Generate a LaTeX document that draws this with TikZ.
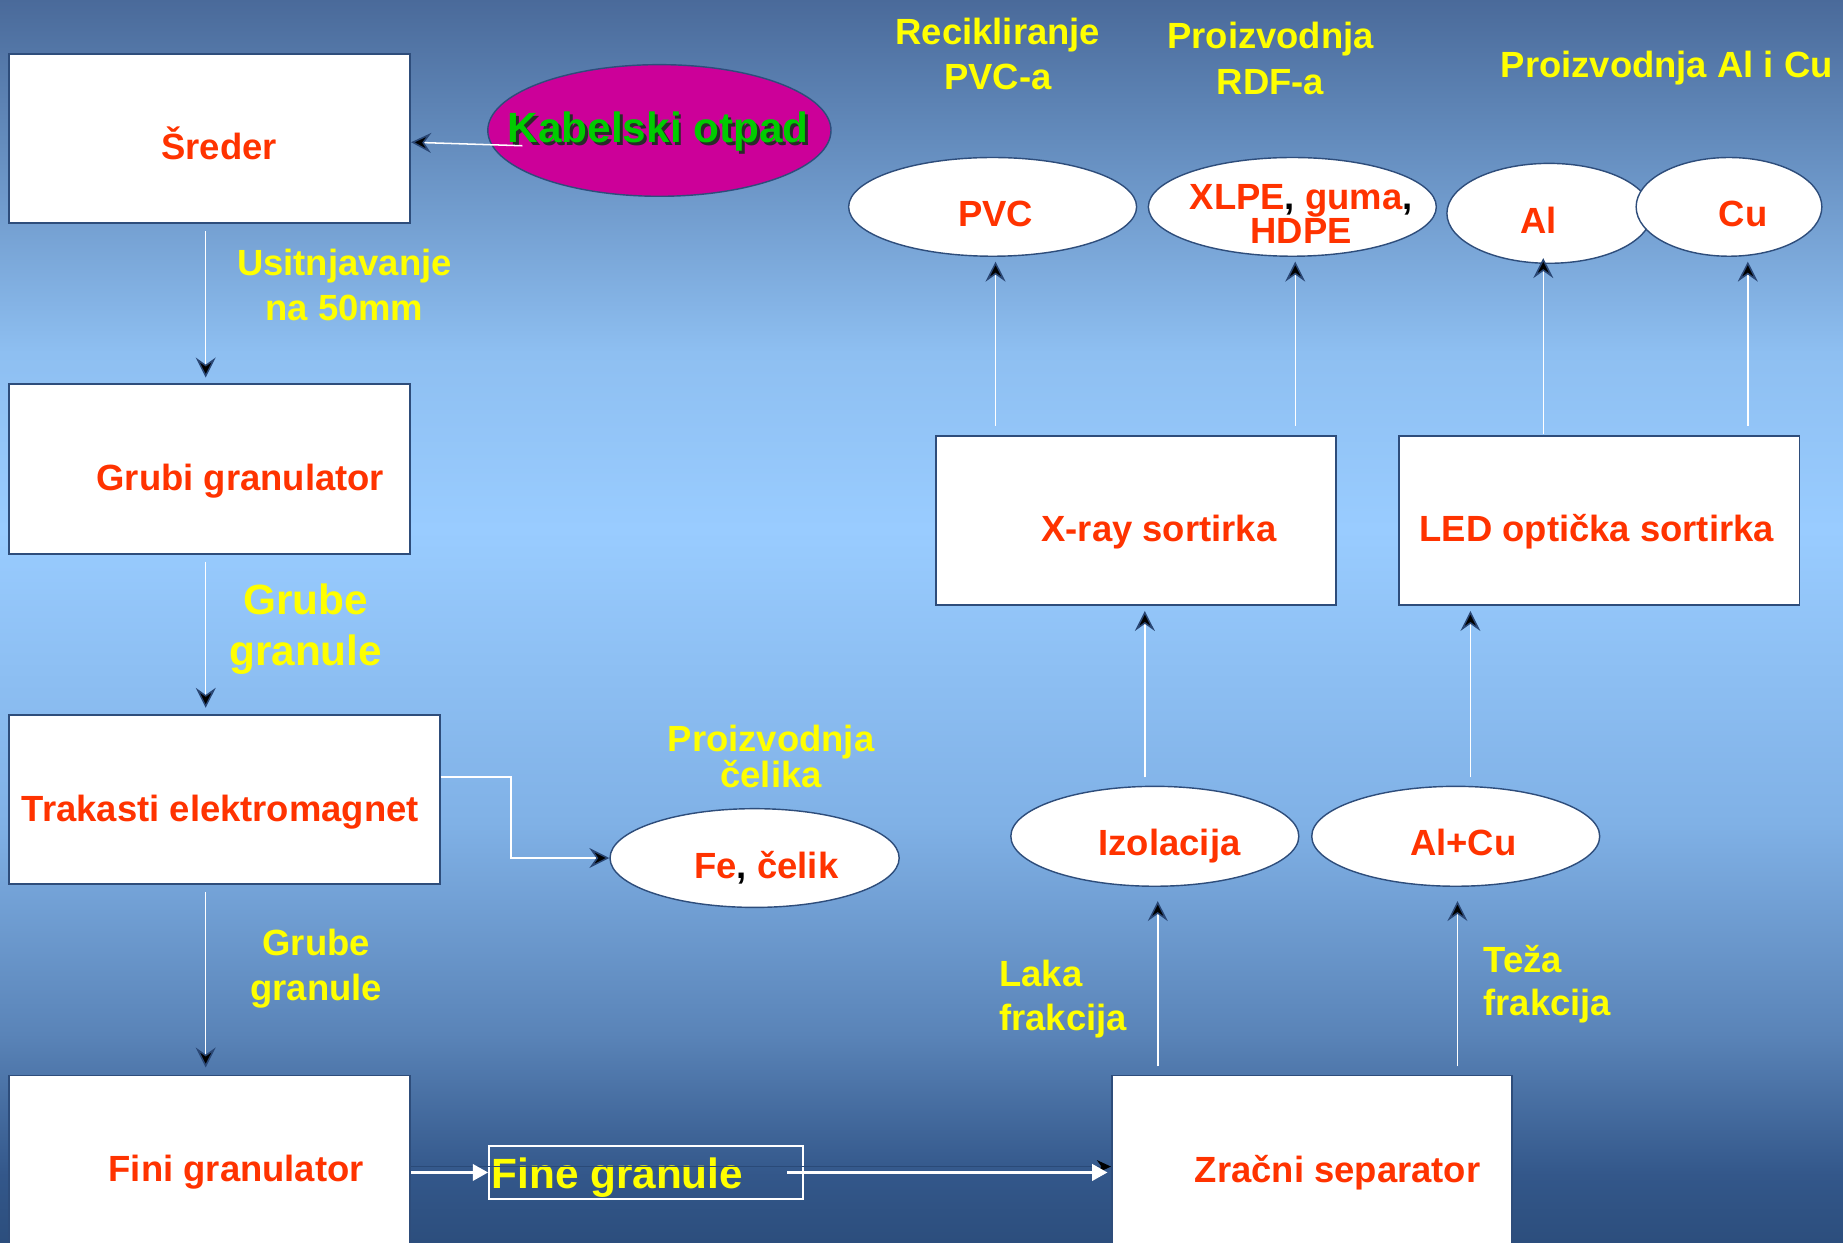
\documentclass[tikz,border=0pt]{standalone}
\usepackage{fontspec}
\setmainfont{Liberation Sans}
\usetikzlibrary{arrows.meta,shapes.geometric}
\definecolor{redt}{HTML}{FF3300}
\definecolor{yel}{HTML}{FFFF00}
\definecolor{bord}{HTML}{2E4D7B}
\definecolor{tipc}{HTML}{000000}
\definecolor{tipo}{HTML}{2A4775}
\definecolor{mag}{HTML}{CC0099}
\definecolor{grn}{HTML}{00CC00}
\definecolor{shd}{HTML}{2A2A2A}
\definecolor{darkln}{HTML}{2A4A78}
\definecolor{bga}{HTML}{2C4E7D}
\definecolor{bgb}{HTML}{33578A}
\definecolor{bgc}{HTML}{5A84B8}
\definecolor{bgd}{HTML}{80B1E6}
\definecolor{bge}{HTML}{99CCFF}
\definecolor{bgf}{HTML}{8EBFF1}
\definecolor{bgg}{HTML}{5F86B7}
\definecolor{bgh}{HTML}{4A6A9A}
\pgfdeclareverticalshading{bgshade}{100bp}{color(0bp)=(bga); color(25bp)=(bga); color(27.7bp)=(bgb); color(33.4bp)=(bgc); color(41.9bp)=(bgd); color(53.7bp)=(bge); color(60.8bp)=(bgf); color(70.3bp)=(bgg); color(75bp)=(bgh); color(100bp)=(bgh)}
\tikzset{
  box/.style={rectangle, draw=bord, line width=1.6pt, fill=white, inner sep=0pt},
  ell/.style={ellipse, draw=bord, line width=1.2pt, fill=white, inner sep=0pt},
  mainlab/.style={font=\fontsize{31}{33}\selectfont\bfseries, text=redt, anchor=base, inner sep=0pt, align=center},
  ylab/.style={font=\fontsize{31}{38}\selectfont\bfseries, text=yel, anchor=base, inner sep=0pt, align=center},
  conn/.style={draw=white, line width=1.3pt, -{Stealth[length=17pt,width=17pt,inset=6pt,fill=tipc,color=tipo,line width=1.3pt]}},
  warr/.style={draw=white, line width=2pt, -{Triangle[length=13pt,width=14pt,fill=white,color=white]}},
}
\begin{document}
\begin{tikzpicture}[x=1pt,y={(0pt,-1pt)}]
\useasboundingbox (0,0) rectangle (1568,1057);
\shade[shading=bgshade] (0,0) rectangle (1568,1057);

% boxes
\node[box, minimum width=341pt, minimum height=144pt] (sreder) at (178.5,118) {};
\node[box, minimum width=341pt, minimum height=144pt] (grubi) at (178.5,399) {};
\node[box, minimum width=366pt, minimum height=144pt] (trak) at (191,680) {};
\node[box, minimum width=341pt, minimum height=155pt] (fini) at (178.5,992.5) {};
\node[box, minimum width=341pt, minimum height=144pt] (xray) at (966.5,443) {};
\node[box, minimum width=341pt, minimum height=144pt] (led) at (1360.5,443) {};
\node[box, minimum width=340pt, minimum height=155pt] (zrac) at (1116,992.5) {};

% ellipses
\node[ellipse, draw=bord, line width=1.2pt, fill=mag, inner sep=0pt, minimum width=292pt, minimum height=112pt] (kab) at (561,111) {};
\node[ell, minimum width=245pt, minimum height=84pt] (pvc) at (844.5,176) {};
\node[ell, minimum width=245pt, minimum height=84pt] (xlpe) at (1099.5,176) {};
\node[ell, minimum width=174pt, minimum height=85pt] (al) at (1318,181.5) {};
\node[ell, minimum width=158pt, minimum height=84pt] (cu) at (1471,176) {};
\node[ell, minimum width=246pt, minimum height=84pt] (fe) at (642,730) {};
\node[ell, minimum width=245pt, minimum height=85pt] (izo) at (982.5,711.5) {};
\node[ell, minimum width=245pt, minimum height=85pt] (alcu) at (1238.5,711.5) {};

% Fine granule box
\node[rectangle, draw=white, line width=1.5pt, inner sep=0pt, minimum width=267pt, minimum height=45pt] (fg) at (549.5,997.5) {};

% main texts
\node[mainlab] (t1) at (186.5,136) {Šreder};
\node[mainlab] (t2) at (204.5,417) {Grubi granulator};
\node[mainlab] (t3) at (187.5,699) {Trakasti elektromagnet};
\node[mainlab] (t4) at (201,1005) {Fini granulator};
\node[mainlab] (t5) at (986,461) {X-ray sortirka};
\node[mainlab] (t6) at (1358.5,461) {LED optička sortirka};
\node[mainlab] (t7) at (1138,1006) {Zračni separator};
\node[mainlab] (t8) at (847,193) {PVC};
\node[mainlab, font=\fontsize{31}{25}\selectfont\bfseries] (t9) at (1107,207) {XLPE\textcolor{black}{,} guma\textcolor{black}{,}\\HDPE};
\node[mainlab] (t10) at (1309,199) {Al};
\node[mainlab] (t11) at (1483,193) {Cu};
\node[mainlab] (t12) at (652,747) {Fe\textcolor{black}{,} čelik};
\node[mainlab] (t13) at (995,728) {Izolacija};
\node[mainlab] (t14) at (1245,728) {Al+Cu};

\node[font=\fontsize{36}{40}\selectfont\bfseries, text=grn, anchor=base, inner sep=0pt] (t15) at (560,121) {\rlap{\kern2.5pt\raisebox{-2.5pt}{\textcolor{shd}{Kabelski otpad}}}Kabelski otpad};

% yellow labels (anchor base = last line)
\node[ylab, font=\fontsize{31}{39}\selectfont\bfseries] (y1) at (293,273) {Usitnjavanje\\na 50mm};
\node[ylab, font=\fontsize{36}{43}\selectfont\bfseries] (y2) at (260,566) {Grube\\granule};
\node[ylab, font=\fontsize{31}{38}\selectfont\bfseries] (y3) at (269,851) {Grube\\granule};
\node[ylab, font=\fontsize{31}{27}\selectfont\bfseries] (y4) at (656,670) {Proizvodnja\\čelika};
\node[ylab, font=\fontsize{31}{38}\selectfont\bfseries] (y5) at (849,76) {Recikliranje\\PVC-a};
\node[ylab, font=\fontsize{31}{39}\selectfont\bfseries] (y6) at (1081,80) {Proizvodnja\\RDF-a};
\node[ylab] (y7) at (1418,66) {Proizvodnja Al i Cu};
\node[ylab, align=left, anchor=base west, font=\fontsize{31}{38}\selectfont\bfseries] (y8) at (850,877) {Laka\\frakcija};
\node[ylab, align=left, anchor=base west, font=\fontsize{31}{37}\selectfont\bfseries] (y9) at (1262,864) {Teža\\frakcija};
\node[ylab, anchor=base west, font=\fontsize{36}{40}\selectfont\bfseries] (y10) at (418,1011) {Fine granule};

% connectors
\draw[conn] ([xshift=30pt,yshift=-13pt]kab.west) -- ([yshift=-3pt]sreder.east);
\draw[conn] ([xshift=-3.5pt,yshift=-6pt]sreder.south) -- ([xshift=-3.5pt,yshift=5pt]grubi.north);
\draw[conn] ([xshift=-3.5pt,yshift=-6pt]grubi.south) -- ([xshift=-16pt,yshift=5pt]trak.north);
\draw[conn] ([xshift=-16pt,yshift=-6pt]trak.south) -- ([xshift=-3.5pt,yshift=6pt]fini.north);
\draw[conn] ([yshift=19pt]trak.east) -- ++(60,0) |- (fe.west);
\draw[darkln, line width=1pt, -{Stealth[length=12pt,width=11pt,fill=black,color=black]}] (fini.east) -- (zrac.west);
\draw[warr] (fini.east |- fg.west) -- (fg.west);
\draw[warr] ([xshift=-14pt]fg.east) -- ([xshift=-3pt]fg.east -| zrac.west);
\draw[conn] ([xshift=-131pt,yshift=7pt]zrac.north) -- ([xshift=2.5pt,yshift=-12pt]izo.south);
\draw[conn] ([xshift=124pt,yshift=7pt]zrac.north) -- ([xshift=1.5pt,yshift=-12pt]alcu.south);
\draw[conn] ([xshift=-8.5pt,yshift=7pt]izo.north) -- ([xshift=7.5pt,yshift=-4pt]xray.south);
\draw[conn] ([xshift=12.5pt,yshift=7pt]alcu.north) -- ([xshift=-109.5pt,yshift=-4pt]led.south);
\draw[conn] ([xshift=-119.5pt,yshift=8pt]xray.north) -- ([xshift=2.5pt,yshift=-4pt]pvc.south);
\draw[conn] ([xshift=135.5pt,yshift=8pt]xray.north) -- ([xshift=2.5pt,yshift=-4pt]xlpe.south);
\draw[conn] ([xshift=-47.5pt,yshift=1pt]led.north) -- ([xshift=-5pt,yshift=5pt]al.south);
\draw[conn] ([xshift=126.5pt,yshift=8pt]led.north) -- ([xshift=16pt,yshift=-4pt]cu.south);
\end{tikzpicture}
\end{document}
